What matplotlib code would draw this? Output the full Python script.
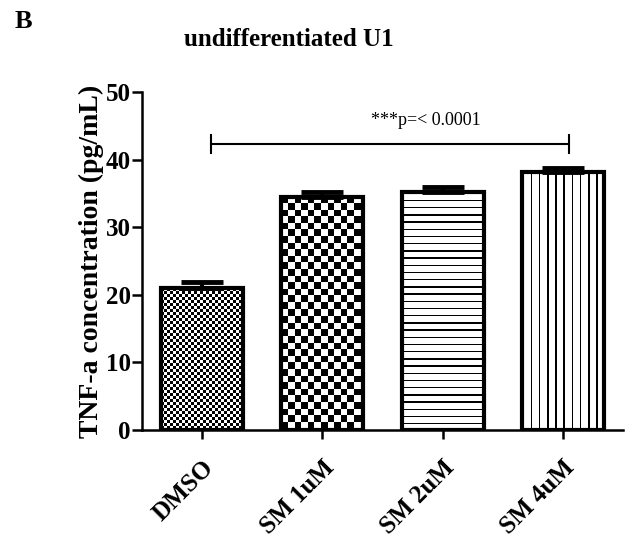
import numpy as np
import matplotlib
matplotlib.use("Agg")
import matplotlib.pyplot as plt

# values
groups = ["DMSO", "SM 1uM", "SM 2uM", "SM 4uM"]
means = [21.0, 34.5, 35.2, 38.2]
errs = [0.9, 0.7, 0.8, 0.5]
patterns = ["checker_small", "checker_big", "hlines", "vlines"]
sig_text = "***p=< 0.0001"

plt.rcParams["font.family"] = ["Liberation Serif", "DejaVu Serif"]

fig = plt.figure(figsize=(6.33, 5.38), dpi=100)
ax = fig.add_axes([142 / 633, 108 / 538, 481 / 633, 338 / 538])
ax.set_xlim(-0.5, 3.5)
ax.set_ylim(0, 50)

x = np.arange(len(groups))
bars = ax.bar(x, means, width=0.68, fill=False, edgecolor="black",
              linewidth=3, joinstyle="miter", zorder=3)


def make_pattern(kind, h, w):
    ii, jj = np.mgrid[0:h, 0:w]
    if kind == "checker_small":
        return ((ii // 3 + jj // 3) % 2).astype(float)
    if kind == "checker_big":
        return ((np.floor(ii / 6.6) + np.floor(jj / 6.6)) % 2).astype(float)
    if kind == "hlines":
        return np.where((ii % 7.2) < 1.5, 0.0, 1.0)
    return np.where((jj % 8.2) < 1.5, 0.0, 1.0)


for bar, kind in zip(bars, patterns):
    x0, y0 = bar.get_x(), 0
    x1, y1 = x0 + bar.get_width(), bar.get_height()
    p0 = ax.transData.transform((x0, y0))
    p1 = ax.transData.transform((x1, y1))
    w = int(round(p1[0] - p0[0]))
    h = int(round(p1[1] - p0[1]))
    img = make_pattern(kind, h, w)
    ax.imshow(img, cmap="gray", vmin=0, vmax=1, extent=(x0, x1, y0, y1),
              origin="upper", interpolation="nearest", aspect="auto",
              zorder=2, clip_path=bar)

ax.errorbar(x, means, yerr=[np.zeros(len(errs)), errs], fmt="none",
            ecolor="black", elinewidth=3, capsize=15, capthick=3.5, zorder=4)

ax.set_xlim(-0.5, 3.5)
ax.set_ylim(0, 50)

# significance bracket
ax.plot([0.07, 3.05], [42.3, 42.3], color="black", lw=1.5, clip_on=False)
ax.plot([0.07, 0.07], [41.0, 43.6], color="black", lw=1.5, clip_on=False)
ax.plot([3.05, 3.05], [41.0, 43.6], color="black", lw=1.5, clip_on=False)
ax.text(1.86, 44.6, sig_text, ha="center", va="bottom", fontsize=13)

for s in ["top", "right"]:
    ax.spines[s].set_visible(False)
for s in ["left", "bottom"]:
    ax.spines[s].set_linewidth(1.8)

ax.set_yticks([0, 10, 20, 30, 40, 50])
ax.tick_params(axis="y", length=7, width=1.8, labelsize=18, pad=1)
ax.tick_params(axis="x", length=6.5, width=1.8, labelsize=18, pad=12)
ax.set_xticks(x)
ax.set_xticklabels(groups, rotation=45, ha="right", va="top",
                   rotation_mode="anchor", fontweight="bold")
for lab in ax.get_yticklabels():
    lab.set_fontweight("bold")

ax.set_ylabel("TNF-a concentration (pg/mL)", fontsize=20, fontweight="bold",
              labelpad=1)
fig.text(289 / 633, 1 - 40 / 538, "undifferentiated U1", ha="center",
         va="center", fontsize=18, fontweight="bold")
fig.text(15 / 633, 1 - 22 / 538, "B", ha="left", va="center",
         fontsize=19, fontweight="bold")

fig.savefig("out.png", dpi=100)
